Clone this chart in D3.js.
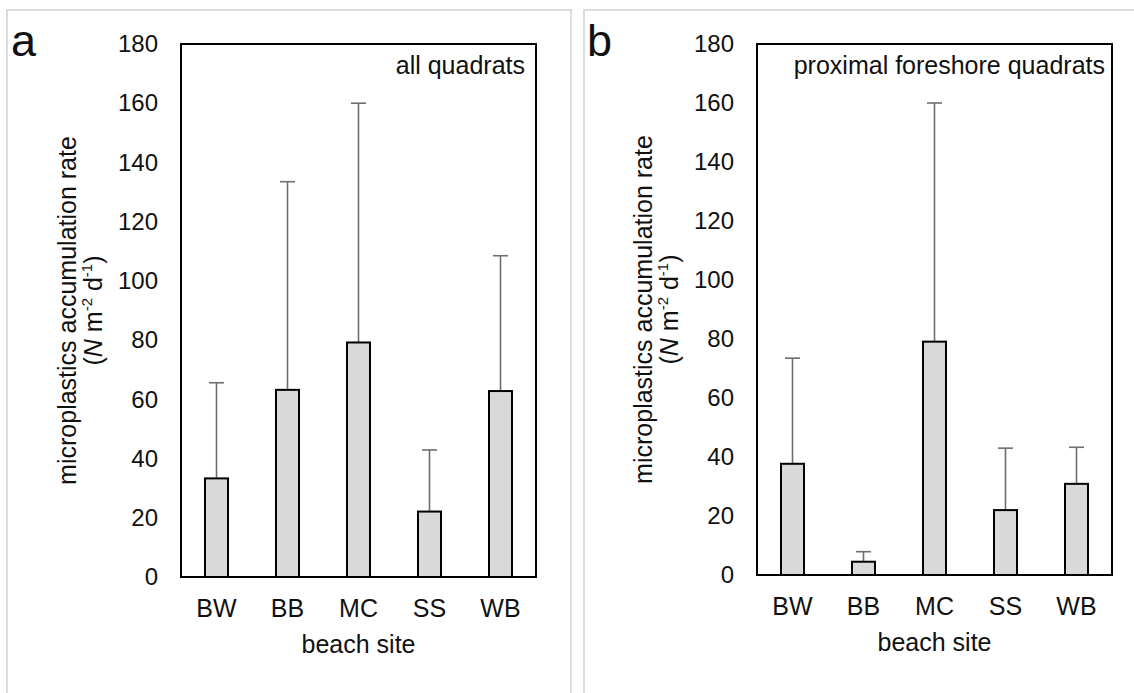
<!DOCTYPE html>
<html lang="en">
  <head>
    <meta charset="utf-8">
    <title>Microplastics accumulation rate</title>
    <style>
      body {
        margin: 0;
        background: white;
      }
      svg text {
        font-family: "Liberation Sans", Arial, sans-serif;
        fill: #111;
      }
      .frame {
        fill: none;
        stroke: #dcdcdc;
        stroke-width: 2px;
      }
      .box {
        fill: none;
        stroke: black;
        stroke-width: 2px;
      }
      .bar {
        fill: #d9d9d9;
        stroke: black;
        stroke-width: 2px;
      }
      .err {
        stroke: #6e6e6e;
        stroke-width: 1.6px;
      }
    </style>
    <script src="https://d3js.org/d3.v7.min.js"></script>
  </head>
  <body>
    <script type="text/javascript">
      var w = 1134;
      var h = 693;

      // data
      var sites = ["BW", "BB", "MC", "SS", "WB"];
      var meanAll = [33.3, 63.2, 79.2, 22.1, 62.8];
      var sdAll = [32.3, 70.3, 80.8, 20.8, 45.7];
      var meanProx = [37.7, 4.5, 79.1, 22.0, 30.9];
      var sdProx = [35.8, 3.4, 80.9, 21.0, 12.4];
      var yTicks = [0, 20, 40, 60, 80, 100, 120, 140, 160, 180];

      var svg = d3.select("body").append("svg")
        .attr("width", w)
        .attr("height", h);

      // light grey panel frames
      svg.append("rect").attr("class", "frame")
        .attr("x", 7).attr("y", 10).attr("width", 564).attr("height", 720);
      svg.append("rect").attr("class", "frame")
        .attr("x", 584).attr("y", 10).attr("width", 600).attr("height", 720);

      var panels = [
        {letter: "a", lx: 11, note: "all quadrats", noteX: 11,
         left: 181, right: 536, top: 44, bottom: 577, mean: meanAll, sd: sdAll},
        {letter: "b", lx: 587, note: "proximal foreshore quadrats", noteX: 7,
         left: 757, right: 1112, top: 44, bottom: 575, mean: meanProx, sd: sdProx}
      ];

      panels.forEach(drawPanel);

      function drawPanel(p) {
        var g = svg.append("g");

        var x = d3.scaleBand()
          .domain(sites)
          .range([p.left, p.right])
          .paddingInner(0.676)
          .paddingOuter(0.338);

        var y = d3.scaleLinear()
          .domain([0, 180])
          .range([p.bottom, p.top]);

        var rows = sites.map(function(s, i) {
          return {site: s, mean: p.mean[i], sd: p.sd[i]};
        });

        // error bars (upper only) go under the bars
        var cap = 7.5;
        var eb = g.selectAll(".eb")
          .data(rows)
          .enter().append("g")
          .attr("class", "eb");
        eb.append("line").attr("class", "err")
          .attr("x1", function(d) { return x(d.site) + x.bandwidth() / 2; })
          .attr("x2", function(d) { return x(d.site) + x.bandwidth() / 2; })
          .attr("y1", function(d) { return y(d.mean); })
          .attr("y2", function(d) { return y(d.mean + d.sd); });
        eb.append("line").attr("class", "err")
          .attr("x1", function(d) { return x(d.site) + x.bandwidth() / 2 - cap; })
          .attr("x2", function(d) { return x(d.site) + x.bandwidth() / 2 + cap; })
          .attr("y1", function(d) { return y(d.mean + d.sd); })
          .attr("y2", function(d) { return y(d.mean + d.sd); });

        g.selectAll(".bar")
          .data(rows)
          .enter().append("rect")
          .attr("class", "bar")
          .attr("x", function(d) { return x(d.site); })
          .attr("width", x.bandwidth())
          .attr("y", function(d) { return y(d.mean); })
          .attr("height", function(d) { return y(0) - y(d.mean); });

        g.append("rect").attr("class", "box")
          .attr("x", p.left)
          .attr("y", p.top)
          .attr("width", p.right - p.left)
          .attr("height", p.bottom - p.top);

        // y axis: labels only, no tick marks
        var yAxis = d3.axisLeft(y).tickValues(yTicks).tickSize(0).tickPadding(23);
        var ya = g.append("g")
          .attr("transform", "translate(" + p.left + ",0)")
          .call(yAxis);
        ya.select(".domain").remove();
        ya.selectAll("text")
          .attr("font-size", 24)
          .attr("font-family", null)
          .attr("fill", "#111");

        var xAxis = d3.axisBottom(x).tickSize(0).tickPadding(0);
        var xa = g.append("g")
          .attr("transform", "translate(0," + p.bottom + ")")
          .call(xAxis);
        xa.select(".domain").remove();
        xa.selectAll("text")
          .attr("dy", null)
          .attr("y", 40)
          .attr("font-size", 25)
          .attr("font-family", null)
          .attr("fill", "#111");

        g.append("text")
          .attr("x", (p.left + p.right) / 2)
          .attr("y", p.bottom + 76)
          .attr("text-anchor", "middle")
          .attr("font-size", 25)
          .text("beach site");

        // rotated y title on two lines
        var cy = (p.top + p.bottom) / 2;
        g.append("text")
          .attr("transform", "translate(" + (p.left - 105) + "," + cy + ") rotate(-90)")
          .attr("text-anchor", "middle")
          .attr("font-size", 25)
          .text("microplastics accumulation rate");

        var t2 = g.append("text")
          .attr("transform", "translate(" + (p.left - 79) + "," + cy + ") rotate(-90)")
          .attr("text-anchor", "middle")
          .attr("font-size", 25);
        t2.append("tspan").text("(");
        t2.append("tspan").attr("font-style", "italic").text("N");
        t2.append("tspan").text(" m");
        t2.append("tspan").attr("font-size", 15).attr("dy", -10).text("-2");
        t2.append("tspan").attr("dy", 10).text(" d");
        t2.append("tspan").attr("font-size", 15).attr("dy", -10).text("-1");
        t2.append("tspan").attr("dy", 10).text(")");

        g.append("text")
          .attr("x", p.right - p.noteX)
          .attr("y", p.top + 30)
          .attr("text-anchor", "end")
          .attr("font-size", 25)
          .text(p.note);

        g.append("text")
          .attr("x", p.lx)
          .attr("y", 56)
          .attr("font-size", 45)
          .text(p.letter);
      }
    </script>
  </body>
</html>
